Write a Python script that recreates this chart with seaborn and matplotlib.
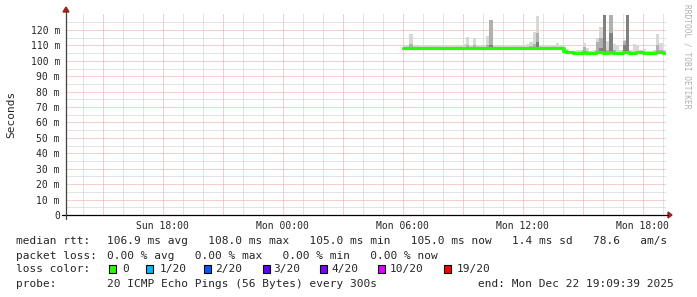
import numpy as np
import pandas as pd
import matplotlib
matplotlib.use("Agg")
import matplotlib.pyplot as plt
from matplotlib.patches import Rectangle, Polygon
from matplotlib.lines import Line2D
import seaborn as sns

# ---------------- data ----------------
# time axis in hours since Sun 00:00
start_hour = 13 + 9 / 60 + 39 / 3600          # Sun 13:09:39
end_hour = start_hour + 30                     # Mon 19:09:39
data_start = 30.0                              # Mon 06:00, first sample
step_h = 1 / 6                                 # 10-minute samples

# median RTT (ms) per sample
median_ms = [
    108.0, 108.0, 108.0, 108.0, 108.0, 108.0, 108.0, 108.0, 108.0, 108.0,
    108.0, 108.0, 108.0, 108.0, 108.0, 108.0, 108.0, 108.0, 108.0, 108.0,
    108.0, 108.0, 108.0, 108.0, 108.0, 108.0, 108.0, 108.0, 108.0, 108.0,
    108.0, 108.0, 108.0, 108.0, 108.0, 108.0, 108.0, 108.0, 108.0, 108.0,
    108.0, 108.0, 108.0, 108.0, 108.0, 108.0, 108.0, 108.0, 106.6, 105.9,
    105.6, 105.1, 105.0, 105.2, 105.6, 105.1, 105.0, 105.1, 105.6, 105.6,
    105.3, 105.1, 105.5, 105.1, 105.0, 105.1, 105.4, 105.6, 105.1, 105.3,
    105.6, 105.6, 105.1, 105.3, 105.0, 105.0, 105.4, 105.6, 105.0]

# smoke: highest ping (light), upper-middle pings (medium), dense pings (dark)
smoke_max_ms = [
    109.5, 110.0, 117.5, 109.5, 110.0, 109.5, 110.0, 109.5, 110.5, 109.5,
    110.0, 109.5, 110.0, 109.5, 109.5, 110.0, 109.5, 110.0, 111.0, 115.5,
    110.5, 115.0, 109.5, 110.0, 109.5, 116.0, 126.5, 109.5, 110.0, 110.0,
    109.5, 110.0, 109.5, 110.0, 110.5, 109.5, 110.0, 111.0, 112.0, 118.5,
    129.0, 110.0, 109.5, 110.0, 109.5, 110.5, 111.5, 110.0, 110.0, 107.5,
    106.5, 106.5, 107.0, 107.0, 111.5, 108.0, 106.5, 107.0, 114.5, 122.0,
    130.0, 113.0, 130.0, 111.0, 110.0, 107.0, 113.5, 130.0, 107.0, 111.0,
    110.5, 107.0, 107.5, 106.5, 106.5, 107.0, 117.5, 111.5, 107.0]

smoke_mid_ms = [
    108.6, 108.7, 111.0, 108.6, 108.7, 108.6, 108.7, 108.6, 108.8, 108.6,
    108.7, 108.6, 108.7, 108.6, 108.6, 108.7, 108.6, 108.7, 109.0, 110.5,
    108.8, 110.0, 108.6, 108.7, 108.6, 110.0, 126.5, 108.6, 108.7, 108.7,
    108.6, 108.7, 108.6, 108.7, 108.8, 108.6, 108.7, 109.0, 109.5, 111.0,
    118.0, 108.7, 108.6, 108.7, 108.6, 108.8, 109.0, 108.7, 108.0, 106.5,
    106.2, 105.7, 105.6, 105.8, 109.0, 105.7, 105.6, 105.7, 112.0, 115.0,
    130.0, 107.0, 130.0, 107.0, 105.6, 105.7, 113.0, 130.0, 105.7, 106.0,
    106.2, 106.2, 105.7, 105.9, 105.6, 105.6, 110.0, 107.0, 105.6]

smoke_dark_ms = [
    108.0, 108.0, 108.0, 108.0, 108.0, 108.0, 108.0, 108.0, 108.0, 108.0,
    108.0, 108.0, 108.0, 108.0, 108.0, 108.0, 108.0, 108.0, 108.0, 108.0,
    108.0, 108.0, 108.0, 108.0, 108.0, 108.0, 110.0, 108.0, 108.0, 108.0,
    108.0, 108.0, 108.0, 108.0, 108.0, 108.0, 108.0, 108.0, 108.0, 108.0,
    112.0, 108.0, 108.0, 108.0, 108.0, 108.0, 108.0, 108.0, 106.6, 105.9,
    105.6, 105.1, 105.0, 105.2, 105.6, 105.1, 105.0, 105.1, 105.6, 108.0,
    130.0, 105.1, 118.0, 105.1, 105.0, 105.1, 110.0, 130.0, 105.1, 105.3,
    105.6, 105.6, 105.1, 105.3, 105.0, 105.0, 105.4, 105.6, 105.0]

x_major_hours = [15, 18, 21, 24, 27, 30, 33, 36, 39, 42]
x_major_labels = ["", "Sun 18:00", "", "Mon 00:00", "", "Mon 06:00", "",
                  "Mon 12:00", "", "Mon 18:00"]
y_major = [0, 10, 20, 30, 40, 50, 60, 70, 80, 90, 100, 110, 120]
y_labels = ["0", "10 m", "20 m", "30 m", "40 m", "50 m", "60 m", "70 m",
            "80 m", "90 m", "100 m", "110 m", "120 m"]

stat_label_rtt = "median rtt:"
stat_text_rtt = ("106.9 ms avg   108.0 ms max   105.0 ms min   "
                 "105.0 ms now   1.4 ms sd   78.6   am/s")
stat_label_loss = "packet loss:"
stat_text_loss = "0.00 % avg   0.00 % max   0.00 % min   0.00 % now"
loss_names = ["0", "1/20", "2/20", "3/20", "4/20", "10/20", "19/20"]
loss_colors = ["#26ff00", "#00b8ff", "#0059ff", "#5e00ff", "#7e00ff",
               "#dd00ff", "#ff0000"]
probe_text = "20 ICMP Echo Pings (56 Bytes) every 300s"
end_text = "end: Mon Dec 22 19:09:39 2025"

# ---------------- drawing ----------------
W, H = 697, 297
sns.set_style("white")
plt.rcParams["font.family"] = ["DejaVu Sans Mono", "DejaVu Sans"]

fig = plt.figure(figsize=(W / 100, H / 100), dpi=100)
fig.patch.set_facecolor("white")


def P(x, y):
    return (x / W, 1 - y / H)


ax_left, ax_right, ax_bottom, ax_top = 66, 666, 215, 13
ax = fig.add_axes([ax_left / W, (H - ax_bottom) / H,
                   (ax_right - ax_left) / W, (ax_bottom - ax_top) / H])
ax.set_facecolor("white")
ax.set_xlim(start_hour, end_hour)
ax.set_ylim(0, 131.0)

n = len(median_ms)
edges = data_start + np.arange(n + 1) * step_h


def ext(a):
    a = np.asarray(a, dtype=float)
    return np.append(a, a[-1])


med = ext(median_ms)
ax.fill_between(edges, med, ext(smoke_max_ms), step="post",
                color="#d8d8d8", lw=0, zorder=2)
ax.fill_between(edges, med, ext(smoke_mid_ms), step="post",
                color="#b0b0b0", lw=0, zorder=3)
ax.fill_between(edges, med, ext(smoke_dark_ms), step="post",
                color="#808080", lw=0, zorder=4)

df = pd.DataFrame({"t": edges, "rtt": med})
sns.lineplot(data=df, x="t", y="rtt", ax=ax, color="#26ff00", lw=2.3,
             drawstyle="steps-post", estimator=None, zorder=5)
ax.set_xlabel("")
ax.set_ylabel("")

# grid
ax.set_xticks(x_major_hours)
ax.set_xticklabels(x_major_labels)
ax.set_xticks(np.arange(14, 44, 1), minor=True)
ax.set_yticks(y_major)
ax.set_yticklabels(y_labels)
ax.set_yticks(np.arange(5, 131, 10), minor=True)
ax.set_axisbelow(True)
ax.grid(which="major", color="#eaa0a0", ls=(0, (1, 1)), lw=0.72, zorder=0)
ax.grid(which="minor", color="#c8c8c8", ls=(0, (1, 1)), lw=0.72, zorder=0)
ax.tick_params(axis="x", which="major", length=1.6, width=0.72,
               color="#e08080", pad=3.0, labelsize=7)
ax.tick_params(axis="x", which="minor", length=0)
ax.tick_params(axis="y", which="major", length=2.2, width=0.72,
               color="black", pad=2.2, labelsize=7)
ax.tick_params(axis="y", which="minor", length=0)
for s in ax.spines.values():
    s.set_visible(False)

# axis lines and arrows
fig.add_artist(Line2D([62 / W, 668 / W], [P(0, 215)[1]] * 2,
                      color="black", lw=0.9, transform=fig.transFigure))
fig.add_artist(Line2D([66 / W] * 2, [P(0, 219)[1], P(0, 11)[1]],
                      color="#404040", lw=0.9, transform=fig.transFigure))
fig.add_artist(Polygon([P(672, 215), P(668, 212), P(668, 218)], closed=True,
                       color="#a02020", transform=fig.transFigure))
fig.add_artist(Polygon([P(66, 7), P(63, 12), P(69, 12)], closed=True,
                       color="#a02020", transform=fig.transFigure))

# y label and watermark
fig.text(*P(11, 114), "Seconds", rotation=90, ha="center", va="center",
         fontsize=8)
fig.text(*P(687.5, 4), "RRDTOOL / TOBI OETIKER", rotation=270,
         ha="center", va="top", fontsize=5.7, color="#b0b0b0")

# legend / statistics
fs = 8
fig.text(*P(16, 244.3), stat_label_rtt, fontsize=fs, va="baseline")
fig.text(*P(107.3, 244.3), stat_text_rtt, fontsize=fs, va="baseline")
fig.text(*P(16, 259.3), stat_label_loss, fontsize=fs, va="baseline")
fig.text(*P(107.3, 259.3), stat_text_loss, fontsize=fs, va="baseline")
fig.text(*P(16, 272.3), "loss color:", fontsize=fs, va="baseline")
box_x = [108.5, 146.0, 204.0, 262.5, 320.0, 377.7, 444.3]
txt_x = [122.5, 160.0, 215.0, 273.3, 331.5, 389.3, 457.0]
for bx, tx, name, col in zip(box_x, txt_x, loss_names, loss_colors):
    x0, y0 = P(bx, 272.5)
    fig.add_artist(Rectangle((x0, y0), 7 / W, 8 / H, facecolor=col,
                             edgecolor="black", lw=0.8,
                             transform=fig.transFigure))
    fig.text(*P(tx, 272.3), name, fontsize=fs, va="baseline")
fig.text(*P(16, 286.7), "probe:", fontsize=fs, va="baseline")
fig.text(*P(107.3, 286.7), probe_text, fontsize=fs, va="baseline")
fig.text(*P(478.3, 286.7), end_text, fontsize=fs, va="baseline")

fig.savefig("out.png", dpi=100, facecolor="white")
